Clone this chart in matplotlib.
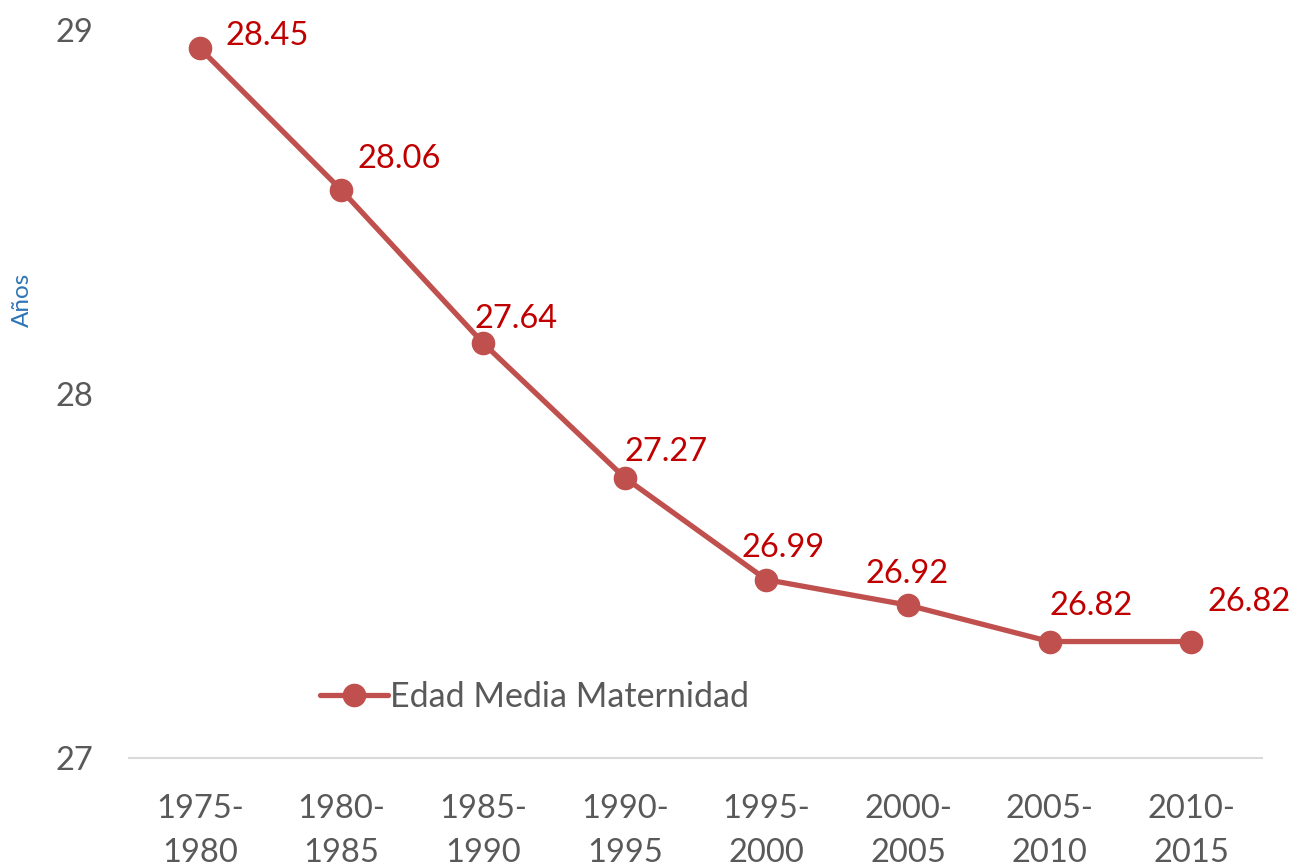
import matplotlib
matplotlib.use("Agg")
import matplotlib.pyplot as plt

categories = ["1975-\n1980", "1980-\n1985", "1985-\n1990", "1990-\n1995",
              "1995-\n2000", "2000-\n2005", "2005-\n2010", "2010-\n2015"]
values = [28.45, 28.06, 27.64, 27.27, 26.99, 26.92, 26.82, 26.82]
ytick_values = [26.5, 27.5, 28.5]
ytick_labels = ["27", "28", "29"]
series_name = "Edad Media Maternidad"
ylabel = "Años"

# label offsets in pixels (dx to text left edge, dy to text center)
label_offsets = [(26, 12), (16, 31), (-9, 24), (0, 26), (-25, 32), (-42, 31), (0, 36), (16, 40)]

plt.rcParams['font.family'] = ['Lato', 'DejaVu Sans']
FS = 23.5

fig = plt.figure(figsize=(12.91, 8.68), dpi=100)
ax = fig.add_axes([129/1291, 1-758/868, 1133/1291, 728/868])

x = [i + 0.5 for i in range(len(values))]
ax.plot(x, values, color="#C0504D", lw=3.8, marker="o", ms=16,
        markerfacecolor="#C0504D", markeredgecolor="#C0504D", label=series_name,
        solid_capstyle="round", zorder=3)

for xi, v, (dx, dy) in zip(x, values, label_offsets):
    ax.annotate(f"{v:.2f}", (xi, v), xytext=(dx, dy), textcoords="offset pixels",
                ha="left", va="center", color="#C00000", fontsize=FS)

ax.set_xlim(0, len(values))
ax.set_ylim(26.5, 28.5)
ax.set_xticks(x)
ax.set_xticklabels(categories, fontsize=FS, color="#595959", linespacing=1.58)
ax.set_yticks(ytick_values)
ax.set_yticklabels(ytick_labels, fontsize=FS, color="#595959")
ax.tick_params(axis="both", length=0)
ax.tick_params(axis="y", pad=26)
ax.tick_params(axis="x", pad=26)
for s in ["top", "right", "left"]:
    ax.spines[s].set_visible(False)
ax.spines["bottom"].set_color("#D9D9D9")
ax.spines["bottom"].set_linewidth(1.5)
ax.set_facecolor("none")

leg = ax.legend(loc="center left", bbox_to_anchor=((320-129)/1133, (758-697)/728),
                frameon=False, fontsize=24.5, handlelength=2.0, handletextpad=0.05,
                borderpad=0, borderaxespad=0, labelcolor="#595959")

fig.text(22/1291, 1-300/868, ylabel, rotation=90, ha="center", va="center",
         color="#2E74B5", fontsize=17.5)

fig.savefig("out.png", dpi=100)
